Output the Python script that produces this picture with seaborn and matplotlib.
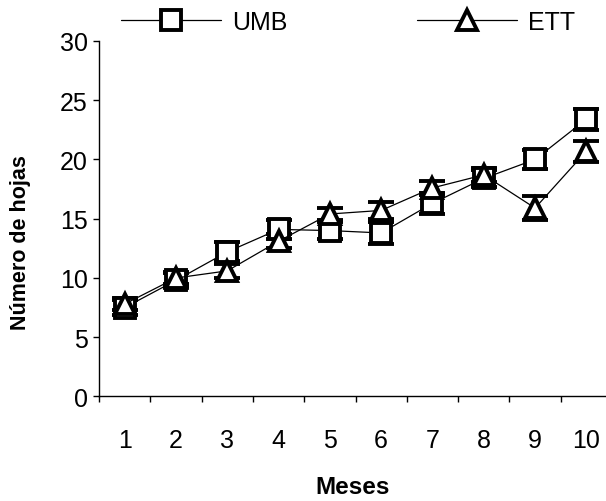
import numpy as np
import pandas as pd
import matplotlib
matplotlib.use("Agg")
import matplotlib.pyplot as plt
import seaborn as sns
from matplotlib.lines import Line2D
from matplotlib.ticker import FixedLocator, NullFormatter

# ---- data ----
meses = [1, 2, 3, 4, 5, 6, 7, 8, 9, 10]
xtick_labels = ["1", "2", "3", "4", "5", "6", "7", "8", "9", "10"]
umb = [7.5, 9.8, 12.2, 14.1, 14.0, 13.8, 16.3, 18.4, 20.0, 23.4]
umb_err = [0.6, 0.6, 0.8, 0.8, 0.7, 0.9, 0.9, 0.7, 0.8, 0.9]
ett = [7.8, 10.0, 10.6, 13.1, 15.4, 15.7, 17.6, 18.7, 15.9, 20.7]
ett_err = [0.5, 0.5, 0.6, 0.6, 0.5, 0.7, 0.6, 0.6, 1.0, 0.9]
series = ["UMB", "ETT"]
yticks = [0, 5, 10, 15, 20, 25, 30]

sns.set_style("ticks")
plt.rcParams['font.family'] = ['Liberation Sans', 'DejaVu Sans']
plt.rcParams.update({
    "text.color": "black",
    "axes.labelcolor": "black",
    "xtick.color": "black",
    "ytick.color": "black",
    "axes.edgecolor": "black",
})

df = pd.DataFrame({
    "Meses": meses * 2,
    "valor": umb + ett,
    "serie": ["UMB"] * len(meses) + ["ETT"] * len(meses),
})

fig = plt.figure(figsize=(6.06, 5.02), dpi=100)
ax = fig.add_axes([0.1634, 0.2082, 0.8465, 0.7082])

MS = 14
MEW = 2.8
for vals, errs in ((umb, umb_err), (ett, ett_err)):
    ax.errorbar(meses, vals, yerr=errs, fmt='none', ecolor='black',
                elinewidth=1, capsize=9.4, capthick=2.8, zorder=1)

sns.lineplot(data=df, x="Meses", y="valor", hue="serie", style="serie",
             markers={"UMB": "s", "ETT": "^"}, dashes=False,
             palette={"UMB": "black", "ETT": "black"},
             markersize=MS, markerfacecolor='white', markeredgecolor='black',
             markeredgewidth=MEW, linewidth=0.9, ax=ax, legend=False,
             zorder=3, clip_on=False)

ax.set_xlim(0.5, 10.5)
ax.set_ylim(0, 30)
ax.set_yticks(yticks)
ax.xaxis.set_major_locator(FixedLocator(np.arange(0.5, 10, 1.0)))
ax.xaxis.set_major_formatter(NullFormatter())
ax.set_xticks(meses, labels=xtick_labels, minor=True)
ax.tick_params(axis='x', which='minor', length=0, pad=23, labelsize=18, labelcolor='black')
ax.tick_params(axis='x', which='major', length=4, width=1, direction='out', color='black')
ax.tick_params(axis='y', length=4, width=1, pad=4, labelsize=18, direction='out',
               color='black', labelcolor='black')

for s in ("top", "right"):
    ax.spines[s].set_visible(False)
for s in ("left", "bottom"):
    ax.spines[s].set_color("black")
    ax.spines[s].set_linewidth(1.0)
ax.grid(False)

ax.set_xlabel("Meses", fontsize=17.5, fontweight='bold', color='black')
ax.xaxis.label.set_va('center')
ax.xaxis.set_label_coords(0.495, -0.252)
ax.set_ylabel("Número de hojas", fontsize=15.5, fontweight='bold', color='black')
ax.yaxis.label.set_va('center')
ax.yaxis.set_label_coords(-0.154, 0.437)

handles = [
    Line2D([], [], color='black', lw=0.9, marker='s', ms=15, mfc='white', mec='black', mew=MEW),
    Line2D([], [], color='black', lw=0.9, marker='^', ms=15, mfc='white', mec='black', mew=MEW),
]
fig.legend(handles, series, loc='center left', bbox_to_anchor=(121 / 606, 1 - 23 / 502),
           ncol=2, frameon=False, handlelength=4.0, handletextpad=0.44,
           columnspacing=5.2, fontsize=18, borderpad=0, borderaxespad=0,
           labelcolor='black')

fig.savefig("out.png", dpi=100)
